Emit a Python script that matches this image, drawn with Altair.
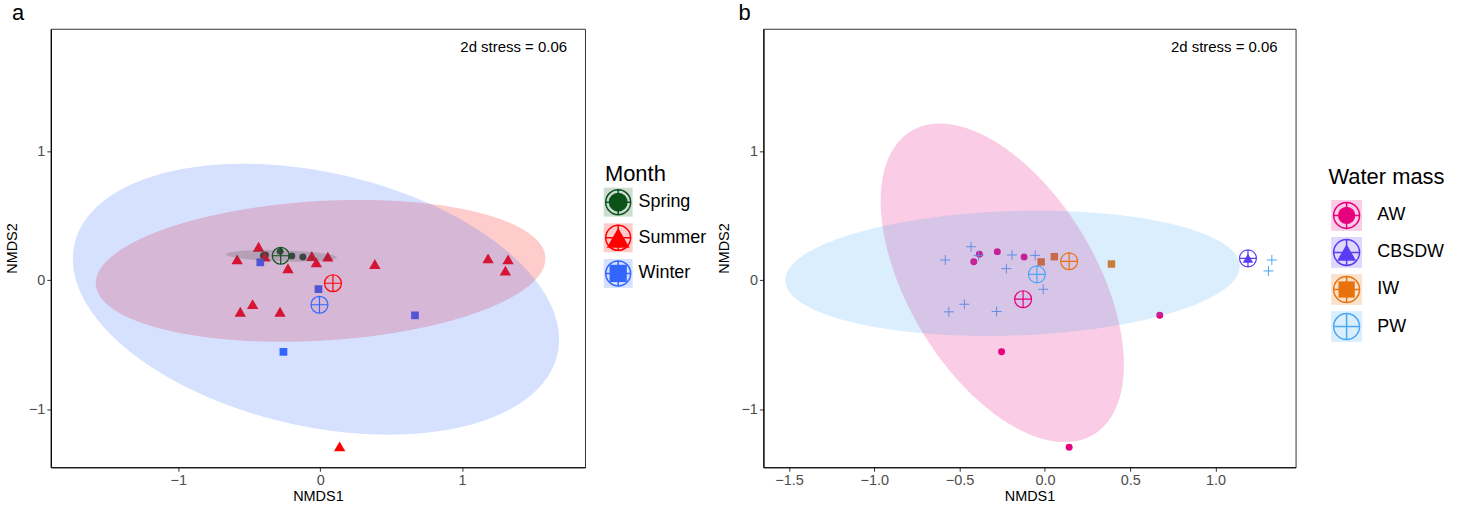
import altair as alt
import numpy as np
import pandas as pd

FONT = "Liberation Sans"
OPLUS = "M-1,0A1,1,0,1,1,1,0A1,1,0,1,1,-1,0ZM-1,0L1,0M0,-1L0,1"
PLUS = "M-1,0L1,0M0,-1L0,1"

# ---------------- Panel a : Month ----------------
month_cats = ["Spring", "Summer", "Winter"]
month_colors = ["#0a5218", "#ff0000", "#3366ff"]
month_shapes = ["circle", "triangle-up", "square"]
month_sizes = [49, 130, 60]

spring_x = [-0.400, -0.386, -0.282, -0.200, -0.122]
spring_y = [0.190, 0.195, 0.224, 0.189, 0.180]
summer_x = [-0.434, -0.585, -0.390, -0.227, -0.059, -0.027, 0.054, 0.385,
            1.183, 1.324, 1.305, -0.476, -0.563, -0.283, 0.137]
summer_y = [0.260, 0.162, 0.183, 0.093, 0.188, 0.139, 0.183, 0.126,
            0.170, 0.162, 0.075, -0.185, -0.244, -0.244, -1.288]
winter_x = [-0.422, -0.012, 0.668, -0.259]
winter_y = [0.139, -0.069, -0.272, -0.555]

month_cent_x = [-0.278, 0.090, -0.005]
month_cent_y = [0.190, -0.023, -0.190]

month_ell_cx = [-0.273, 0.003, -0.030]
month_ell_cy = [0.189, 0.073, -0.147]
month_ell_sxx = [0.152, 2.509, 2.934]
month_ell_syy = [0.002, 0.3025, 1.1025]
month_ell_sxy = [-0.0047, 0.150, -0.536]

# ---------------- Panel b : Water mass ----------------
wm_cats = ["AW", "CBSDW", "IW", "PW"]
wm_colors = ["#e6007e", "#5a3cf5", "#e8720c", "#4aa8f5"]
wm_shapes = ["circle", "triangle-up", "square", PLUS]
wm_sizes = [49, 110, 56, 100]

aw_x = [-0.384, -0.417, -0.279, -0.122, -0.254, 0.673, 0.142]
aw_y = [0.201, 0.144, 0.222, 0.180, -0.554, -0.271, -1.294]
cbsdw_x = [1.190]
cbsdw_y = [0.170]
iw_x = [-0.022, 0.055, 0.390]
iw_y = [0.142, 0.183, 0.126]
pw_x = [-0.584, -0.433, -0.389, -0.193, -0.226, -0.057, -0.010,
        -0.563, -0.472, -0.283, 1.330, 1.310]
pw_y = [0.157, 0.260, 0.191, 0.196, 0.090, 0.193, -0.070,
        -0.245, -0.186, -0.242, 0.157, 0.072]

wm_cent_x = [-0.128, 1.190, 0.142, -0.047]
wm_cent_y = [-0.147, 0.170, 0.147, 0.046]

wm_ell_groups = ["AW", "PW"]
wm_ell_cx = [-0.250, -0.190]
wm_ell_cy = [-0.020, 0.054]
wm_ell_sxx = [0.508, 1.774]
wm_ell_syy = [1.525, 0.2357]
wm_ell_sxy = [-0.452, 0.072]

stress_label = "2d stress = 0.06"

W_A, W_B, H = 536, 534, 440
XDOM_A = [-1.898, 1.866]
XDOM_B = [-1.650, 1.469]
YDOM = [-1.45, 1.95]


def points_df(groups, xs, ys):
    return pd.concat([pd.DataFrame({"group": g, "x": x, "y": y}) for g, x, y in zip(groups, xs, ys)],
                     ignore_index=True)


def ellipse_df(groups, cx, cy, sxx, syy, sxy, n=361):
    t = np.linspace(np.pi, 0, n)
    frames = []
    for g, a, b, p, q, r in zip(groups, cx, cy, sxx, syy, sxy):
        l11 = np.sqrt(p)
        l21 = r / l11
        l22 = np.sqrt(q - l21 ** 2)
        u, s = np.cos(t), np.sin(t)
        frames.append(pd.DataFrame({"group": g, "x": a + l11 * u,
                                    "y": b + l21 * u + l22 * s,
                                    "y2": b + l21 * u - l22 * s}))
    return pd.concat(frames, ignore_index=True)


def panel(pts, ell, cent, cats, colors, shapes, sizes, ell_order, xdom, xticks, xfmt, width, letter,
          letter_dx, stroke_cats):
    color = alt.Color("group:N", scale=alt.Scale(domain=cats, range=colors))
    X = alt.X("x:Q", scale=alt.Scale(domain=xdom, nice=False, zero=False),
              axis=alt.Axis(values=xticks, format=xfmt, title="NMDS1"))
    Y = alt.Y("y:Q", scale=alt.Scale(domain=YDOM, nice=False, zero=False),
              axis=alt.Axis(values=[-1, 0, 1], format="d", title="NMDS2"))
    filled_pts = pts[~pts["group"].isin(stroke_cats)]
    stroke_pts = pts[pts["group"].isin(stroke_cats)]
    layers = [
        alt.Chart(filled_pts).mark_point(filled=True, opacity=1, strokeWidth=0).encode(
            x=X, y=Y, color=color,
            shape=alt.Shape("group:N", scale=alt.Scale(domain=cats, range=shapes)),
            size=alt.Size("group:N", scale=alt.Scale(type="ordinal", domain=cats, range=sizes)))
    ]
    if len(stroke_pts):
        layers.append(alt.Chart(stroke_pts).mark_point(filled=False, opacity=1, shape=PLUS,
                                                       size=100, strokeWidth=1.0).encode(
            x=X, y=Y, color=color))
    for g in ell_order:
        layers.append(alt.Chart(ell[ell["group"] == g]).mark_area(opacity=0.2).encode(
            x=X, y=Y, y2="y2:Q", color=color))
    layers.append(alt.Chart(cent).mark_point(shape=OPLUS, filled=False, opacity=1, size=289,
                                             strokeWidth=1.2).encode(x=X, y=Y, color=color))
    layers.append(alt.Chart(pd.DataFrame({"label": [stress_label]})).mark_text(
        align="right", baseline="middle", fontSize=15, font=FONT, color="black").encode(
        x=alt.value(width - 18), y=alt.value(18.5), text="label:N"))
    return alt.layer(*layers).properties(
        width=width, height=H,
        title=alt.TitleParams(letter, anchor="start", frame="group", dx=letter_dx, fontSize=22,
                              fontWeight="normal", font=FONT, color="black", offset=4))


def legend(cats, colors, inner_cats, inner_shapes, inner_sizes, title, width, yr,
           key_x, key_size, oplus_size, label_x, title_x, title_y):
    df = pd.DataFrame({"group": cats})
    color = alt.Color("group:N", scale=alt.Scale(domain=cats, range=colors))
    Y = alt.Y("group:N", scale=alt.Scale(type="point", domain=cats, range=yr, padding=0), axis=None)
    layers = [
        alt.Chart(df).mark_square(size=key_size ** 2, opacity=0.2).encode(
            x=alt.value(key_x), y=Y, color=color),
        alt.Chart(pd.DataFrame({"group": inner_cats})).mark_point(filled=True, opacity=1, strokeWidth=0).encode(
            x=alt.value(key_x), y=Y, color=color,
            shape=alt.Shape("group:N", scale=alt.Scale(domain=inner_cats, range=inner_shapes)),
            size=alt.Size("group:N", scale=alt.Scale(type="ordinal", domain=inner_cats, range=inner_sizes))),
        alt.Chart(df).mark_point(shape=OPLUS, filled=False, opacity=1, size=oplus_size,
                                 strokeWidth=1.5).encode(x=alt.value(key_x), y=Y, color=color),
        alt.Chart(df).mark_text(align="left", baseline="middle", fontSize=18, font=FONT,
                                color="black").encode(x=alt.value(label_x), y=Y, text="group:N"),
        alt.Chart(pd.DataFrame({"t": [title]})).mark_text(
            align="left", baseline="alphabetic", fontSize=22, font=FONT, color="black").encode(
            x=alt.value(title_x), y=alt.value(title_y), text="t:N"),
    ]
    return alt.layer(*layers).properties(
        width=width, height=H, view=alt.ViewBackground(stroke="transparent"))


pts_a = points_df(month_cats, [spring_x, summer_x, winter_x], [spring_y, summer_y, winter_y])
ell_a = ellipse_df(month_cats, month_ell_cx, month_ell_cy, month_ell_sxx, month_ell_syy, month_ell_sxy)
cent_a = pd.DataFrame({"group": month_cats, "x": month_cent_x, "y": month_cent_y})

pts_b = points_df(wm_cats, [aw_x, cbsdw_x, iw_x, pw_x], [aw_y, cbsdw_y, iw_y, pw_y])
ell_b = ellipse_df(wm_ell_groups, wm_ell_cx, wm_ell_cy, wm_ell_sxx, wm_ell_syy, wm_ell_sxy)
cent_b = pd.DataFrame({"group": wm_cats, "x": wm_cent_x, "y": wm_cent_y})

panel_a = panel(pts_a, ell_a, cent_a, month_cats, month_colors, month_shapes, month_sizes,
                month_cats, XDOM_A, [-1, 0, 1], "d", W_A, "a", -39, [])
panel_b = panel(pts_b, ell_b, cent_b, wm_cats, wm_colors, wm_shapes, wm_sizes,
                wm_ell_groups, XDOM_B, [-1.5, -1.0, -0.5, 0.0, 0.5, 1.0], ".1f", W_B, "b", -25, ["PW"])

legend_a = legend(month_cats, month_colors, month_cats, month_shapes, [361, 529, 300],
                  "Month", 179, [174, 245.5], 33.3, 29, 625, 53.7, 20, 152.3)
legend_b = legend(wm_cats, wm_colors, ["AW", "CBSDW", "IW"], ["circle", "triangle-up", "square"],
                  [300, 361, 266], "Water mass", 167, [187.3, 298.8], 51.2, 31, 676, 82, 33, 155.3)

chart = alt.hconcat(panel_a, legend_a, panel_b, legend_b, spacing=0, bounds="flush").resolve_scale(
    x="independent", y="independent", color="independent", shape="independent", size="independent"
).properties(
    padding={"left": 3, "top": 0, "right": 0, "bottom": 0}
).configure(font=FONT).configure_view(
    stroke="#333333", strokeWidth=1
).configure_axis(
    grid=False, labelFont=FONT, labelFontSize=14.5, labelColor="#4d4d4d", labelPadding=2,
    titleFont=FONT, titleFontSize=14.5, titleFontWeight="normal", titleColor="black",
    titlePadding=3, tickColor="#333333", tickSize=4, domainColor="black", domainWidth=1.2
).configure_axisY(titlePadding=9).configure_legend(disable=True)

chart.save("out.html", embed_options={"renderer": "svg", "actions": False})
